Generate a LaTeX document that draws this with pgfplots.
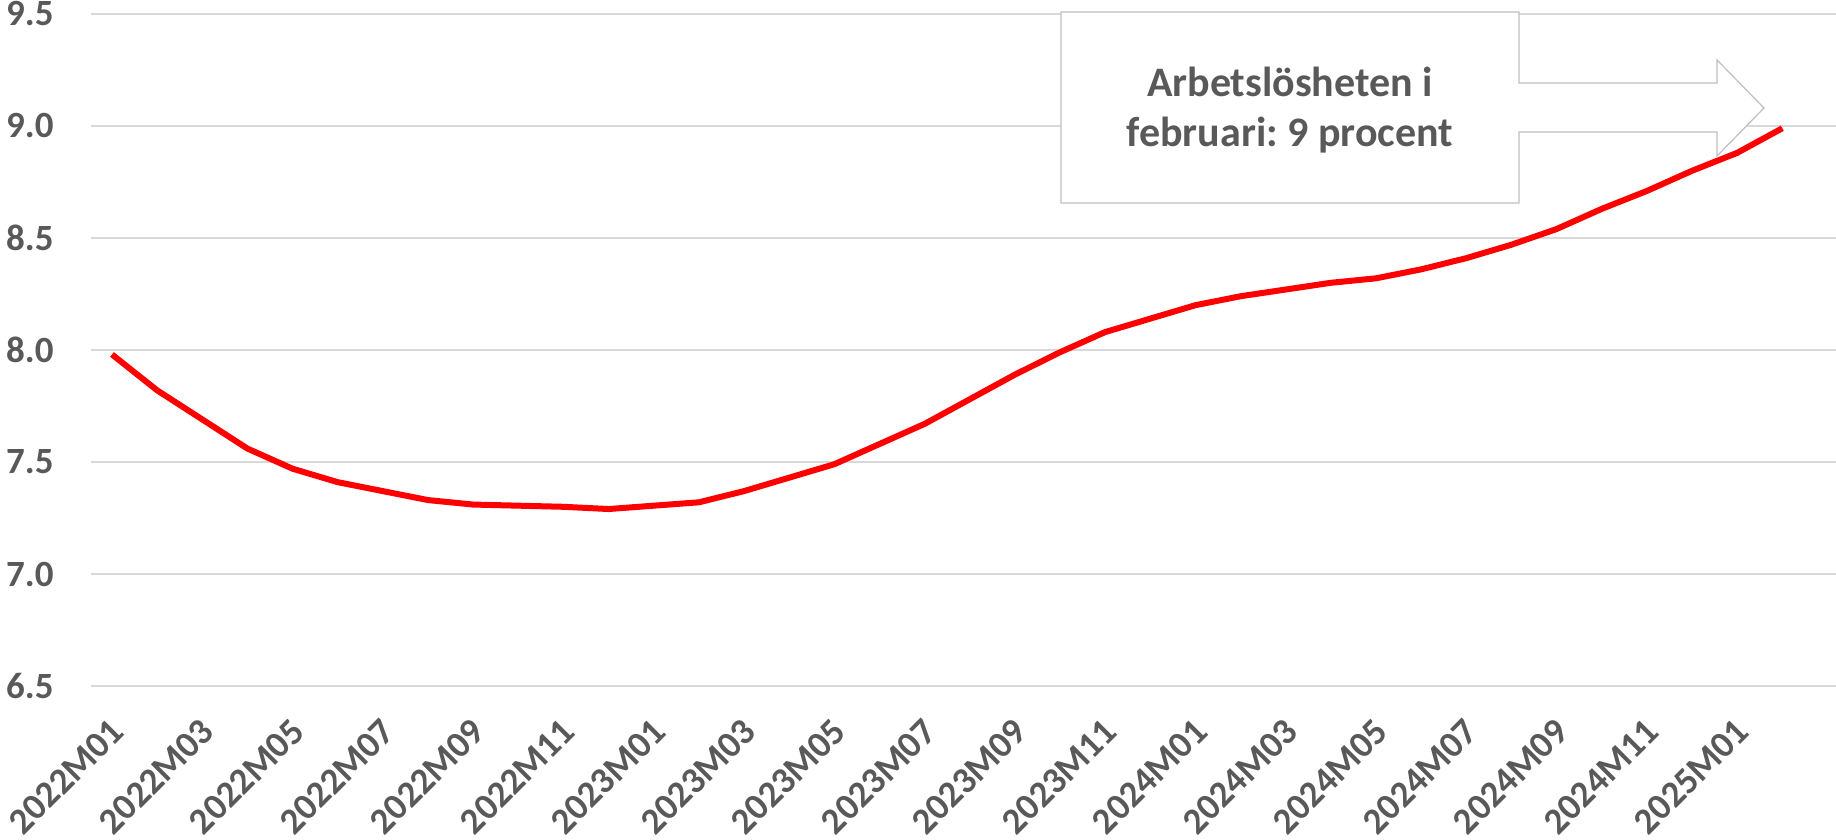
\documentclass[border=0pt]{standalone}
\usepackage{pgfplots}
\pgfplotsset{compat=1.18}
\usepackage{fontspec}
\setmainfont{Carlito}
\definecolor{cgray}{HTML}{595959}
\definecolor{cgrid}{HTML}{D9D9D9}
\definecolor{cbox}{HTML}{BFBFBF}
\begin{document}
\frenchspacing
\begin{tikzpicture}
\useasboundingbox (0,0) rectangle (918pt,420pt);
\begin{axis}[
  at={(45.5pt,77pt)}, anchor=south west,
  scale only axis, width=872.5pt, height=336pt,
  xmin=-0.465, xmax=38.19, ymin=6.5, ymax=9.5,
  ytick={6.5,7.0,...,9.5},
  xtick={0,2,...,36},
  xticklabels={2022M01,2022M03,2022M05,2022M07,2022M09,2022M11,2023M01,2023M03,2023M05,2023M07,2023M09,2023M11,2024M01,2024M03,2024M05,2024M07,2024M09,2024M11,2025M01},
  ymajorgrids, major grid style={color=cgrid, line width=0.75pt},
  axis line style={draw=none}, major tick length=0pt,
  /pgf/number format/assume math mode=true,
  /pgf/number format/.cd, fixed, fixed zerofill, precision=1, /pgfplots/.cd,
  yticklabel style={anchor=east, inner sep=0pt, xshift=-18.5pt, font=\fontsize{18.5}{22}\selectfont\bfseries, text=cgray},
  xticklabel style={xshift=2.8pt, yshift=-19.5pt, rotate=45, anchor=east, inner sep=0pt, font=\fontsize{18.5}{22}\selectfont\bfseries, text=cgray},
  clip=false,
]
\addplot[red, line width=3pt, line join=round, no markers] coordinates {
(0,7.98) (1,7.82) (2,7.69) (3,7.56) (4,7.47) (5,7.41) (6,7.37) (7,7.33) (8,7.31) (9,7.305) (10,7.30) (11,7.29)
(12,7.305) (13,7.32) (14,7.37) (15,7.43) (16,7.49) (17,7.58) (18,7.67) (19,7.78) (20,7.89) (21,7.99) (22,8.08) (23,8.14)
(24,8.20) (25,8.24) (26,8.27) (27,8.30) (28,8.32) (29,8.36) (30,8.41) (31,8.47) (32,8.54) (33,8.63) (34,8.71) (35,8.80)
(36,8.88) (37,8.99)
};
\end{axis}
\begin{scope}[x=0.5pt, y=-0.5pt, shift={(0,420pt)}]
\draw[cbox, fill=white, line width=0.6pt] (1061,12) -- (1519,12) -- (1519,83) -- (1717,83) -- (1717,60) -- (1764,108) -- (1717,156) -- (1717,132) -- (1519,132) -- (1519,203) -- (1061,203) -- cycle;
\node[anchor=base, inner sep=0pt, text=cgray, font=\fontsize{21}{25}\selectfont\bfseries] at (1290,97) {Arbetslösheten i};
\node[anchor=base, inner sep=0pt, text=cgray, font=\fontsize{21}{25}\selectfont\bfseries] at (1290,147) {februari: 9 procent};
\end{scope}
\end{tikzpicture}
\end{document}
